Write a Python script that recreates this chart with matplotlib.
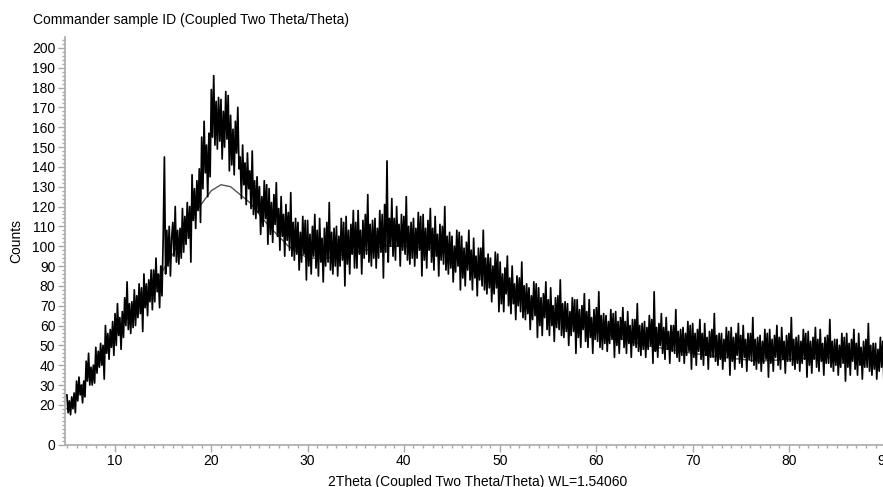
import numpy as np
import matplotlib
matplotlib.use("Agg")
import matplotlib.pyplot as plt
from matplotlib.ticker import MultipleLocator

plt.rcParams["font.family"] = ["Liberation Sans", "DejaVu Sans"]

# measured counts, 8 readings per degree (step 0.125 deg 2Theta)
two_theta_start = 5.0
two_theta_step = 0.125
counts_rows = [
    [25, 16, 22, 15, 24, 18, 26, 16],          # 5
    [32, 22, 34, 25, 30, 21, 32, 24],
    [42, 32, 46, 30, 39, 30, 40, 31],
    [49, 36, 47, 39, 51, 40, 50, 33],
    [60, 46, 56, 43, 58, 49, 62, 45],
    [66, 50, 71, 55, 64, 48, 67, 54],          # 10
    [74, 60, 82, 58, 71, 56, 72, 59],
    [78, 60, 75, 64, 81, 66, 79, 57],
    [86, 69, 81, 65, 83, 72, 88, 68],
    [88, 72, 94, 77, 86, 69, 90, 75],
    [104, 145, 86, 108, 90, 110, 85, 104],     # 15
    [112, 95, 120, 92, 108, 91, 109, 94],
    [119, 97, 115, 101, 122, 104, 120, 92],
    [136, 113, 129, 109, 133, 118, 139, 112],
    [155, 129, 163, 137, 151, 125, 157, 135],
    [179, 155, 186, 151, 173, 149, 175, 153],  # 20
    [174, 144, 168, 150, 178, 154, 176, 138],
    [166, 141, 159, 136, 163, 147, 170, 139],
    [145, 124, 151, 131, 142, 121, 147, 129],
    [138, 119, 148, 116, 133, 114, 135, 117],
    [130, 106, 125, 110, 133, 114, 131, 101],  # 25
    [129, 106, 122, 102, 126, 111, 132, 105],
    [119, 98, 125, 105, 116, 95, 121, 103],
    [117, 98, 127, 95, 112, 93, 114, 96],
    [112, 88, 107, 92, 115, 96, 113, 83],
    [113, 90, 106, 86, 110, 95, 116, 89],      # 30
    [108, 85, 114, 92, 104, 82, 109, 90],
    [112, 92, 122, 88, 107, 86, 109, 90],
    [110, 85, 105, 90, 114, 93, 112, 80],
    [115, 91, 108, 86, 111, 96, 118, 89],
    [112, 89, 118, 96, 108, 86, 113, 94],      # 35
    [116, 96, 126, 92, 111, 90, 113, 94],
    [114, 89, 109, 94, 118, 97, 116, 84],
    [121, 97, 143, 92, 114, 100, 124, 95],
    [114, 93, 120, 100, 111, 90, 116, 98],
    [115, 96, 125, 93, 110, 91, 112, 94],      # 40
    [114, 90, 109, 94, 117, 98, 115, 85],
    [116, 93, 109, 89, 113, 98, 119, 92],
    [109, 88, 115, 95, 106, 85, 111, 93],
    [110, 91, 120, 88, 105, 86, 107, 89],
    [105, 82, 100, 87, 108, 90, 107, 78],      # 45
    [105, 84, 99, 80, 102, 88, 108, 83],
    [98, 78, 104, 84, 95, 75, 99, 83],
    [99, 80, 108, 78, 94, 76, 96, 79],
    [94, 72, 90, 76, 97, 79, 96, 67],
    [92, 71, 86, 67, 89, 76, 95, 70],          # 50
    [84, 66, 90, 71, 81, 63, 85, 70],
    [84, 67, 92, 64, 80, 63, 81, 66],
    [79, 58, 75, 63, 82, 65, 81, 54],
    [79, 60, 74, 55, 76, 64, 82, 58],
    [73, 55, 79, 60, 70, 52, 74, 59],          # 55
    [75, 58, 83, 55, 71, 54, 72, 57],
    [71, 50, 67, 55, 74, 57, 73, 46],
    [73, 54, 68, 49, 70, 58, 76, 52],
    [67, 49, 73, 54, 64, 46, 68, 53],
    [69, 52, 77, 49, 65, 48, 66, 51],          # 60
    [65, 47, 62, 51, 68, 53, 66, 44],
    [67, 50, 62, 46, 64, 53, 69, 49],
    [62, 46, 67, 51, 60, 44, 63, 50],
    [63, 49, 71, 47, 60, 45, 61, 48],
    [62, 44, 59, 48, 65, 50, 63, 41],          # 65
    [77, 47, 59, 44, 61, 50, 66, 46],
    [59, 43, 64, 48, 57, 41, 60, 47],
    [60, 46, 68, 44, 57, 42, 58, 45],
    [59, 41, 56, 45, 62, 47, 60, 38],
    [61, 44, 56, 40, 58, 47, 63, 43],          # 70
    [56, 40, 61, 45, 54, 38, 57, 44],
    [58, 44, 66, 42, 55, 40, 56, 43],
    [56, 38, 53, 42, 59, 44, 57, 35],
    [59, 42, 54, 38, 56, 45, 61, 41],
    [55, 39, 60, 44, 53, 37, 56, 43],          # 75
    [56, 42, 64, 40, 53, 38, 54, 41],
    [55, 37, 52, 41, 58, 43, 56, 34],
    [58, 41, 53, 37, 55, 44, 60, 40],
    [54, 38, 59, 43, 52, 36, 55, 42],
    [56, 42, 64, 40, 53, 38, 54, 41],          # 80
    [55, 37, 52, 41, 58, 43, 56, 34],
    [57, 40, 52, 36, 54, 43, 59, 39],
    [53, 37, 58, 42, 51, 35, 54, 41],
    [55, 41, 63, 39, 52, 37, 53, 40],
    [53, 35, 50, 39, 56, 41, 54, 32],          # 85
    [56, 39, 51, 35, 53, 42, 58, 38],
    [51, 35, 56, 40, 49, 33, 52, 39],
    [53, 39, 61, 37, 50, 35, 51, 38],
    [51, 33, 48, 37, 54, 39, 52, 30],
    [50, 36, 47, 33, 45],                      # 90
]

# fitted background / amorphous profile (grey line)
fit_theta = [5, 8, 11, 14, 16, 18, 20, 21, 22, 24, 26, 28, 30, 32, 34, 36, 38,
             40, 43, 46, 50, 55, 60, 65, 70, 73, 77, 80, 85, 90.5]
fit_counts = [18, 40, 62, 80, 96, 115, 128, 131, 130, 122, 110, 100, 94, 94,
              96, 98, 100, 100, 99, 94, 80, 67, 57, 50, 46, 44, 42, 43, 44, 43]

counts = [v for row in counts_rows for v in row]
theta = two_theta_start + two_theta_step * np.arange(len(counts))

fig = plt.figure(figsize=(8.83, 4.87), dpi=100)
ax = fig.add_axes([65 / 883, 42.5 / 487, 825 / 883, 407.5 / 487])

ax.plot(fit_theta, fit_counts, color="#555555", lw=1.0, zorder=2)
ax.plot(theta, counts, color="black", lw=1.25, zorder=3)

ax.set_xlim(4.8, 90.5)
ax.set_ylim(0, 205.5)

ax.set_xticks([10, 20, 30, 40, 50, 60, 70, 80, 90])
ax.xaxis.set_minor_locator(MultipleLocator(1))
ax.set_yticks([0] + list(range(20, 201, 10)))
ax.yaxis.set_minor_locator(MultipleLocator(2))

for s in ["top", "right"]:
    ax.spines[s].set_visible(False)
for s in ["left", "bottom"]:
    ax.spines[s].set_color("#aaaaaa")
    ax.spines[s].set_linewidth(1.2)

ax.tick_params(which="major", length=5, width=1, color="#aaaaaa",
               labelsize=10, pad=2)
ax.tick_params(which="minor", length=2.5, width=1, color="#aaaaaa")

ax.set_ylabel("Counts", fontsize=10, labelpad=6)
ax.set_xlabel("2Theta (Coupled Two Theta/Theta) WL=1.54060", fontsize=10,
              labelpad=5)
fig.text(33 / 883, 1 - 20 / 487, "Commander sample ID (Coupled Two Theta/Theta)",
         fontsize=10, va="center", ha="left")

fig.savefig("out.png", dpi=100)
